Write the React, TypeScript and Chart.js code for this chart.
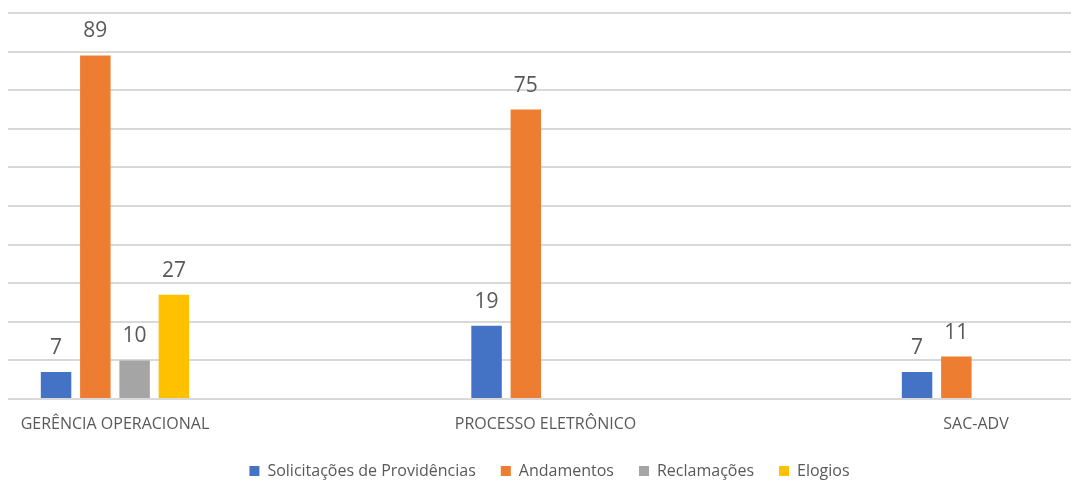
import React, { useEffect, useRef } from "react";
import { Chart, registerables } from "chart.js";

Chart.register(...registerables);

const categories = ["GERÊNCIA OPERACIONAL", "PROCESSO ELETRÔNICO", "SAC-ADV"];
const seriesNames = ["Solicitações de Providências", "Andamentos", "Reclamações", "Elogios"];
const solicitacoes = [7, 19, 7];
const andamentos = [89, 75, 11];
const reclamacoes = [10, null, null];
const elogios = [27, null, null];
const seriesColors = ["#4472C4", "#ED7D31", "#A5A5A5", "#FFC000"];
const yTicks = { min: 0, max: 100, step: 10 };

const TEXT_COLOR = "#595959";
const FONT = "'Open Sans', 'Noto Sans', sans-serif";

const toPoints = (vals: (number | null)[]) =>
  vals
    .map((v, i) => ({ x: i, y: v }))
    .filter((p) => p.y !== null);

const valueLabels = {
  id: "valueLabels",
  afterDatasetsDraw(chart: any) {
    const ctx = chart.ctx;
    ctx.save();
    ctx.font = `21px ${FONT}`;
    ctx.fillStyle = TEXT_COLOR;
    ctx.textAlign = "center";
    ctx.textBaseline = "alphabetic";
    chart.data.datasets.forEach((ds: any, di: number) => {
      const meta = chart.getDatasetMeta(di);
      if (meta.hidden) return;
      meta.data.forEach((el: any, i: number) => {
        const v = ds.data[i]?.y;
        if (v === null || v === undefined) return;
        ctx.fillText(String(v), el.x, el.y - 18);
      });
    });
    ctx.restore();
  },
};

export default function App() {
  const ref = useRef<HTMLCanvasElement>(null);

  useEffect(() => {
    document.body.style.margin = "0";
    const allSeries = [solicitacoes, andamentos, reclamacoes, elogios];
    const chart = new Chart(ref.current!, {
      type: "bar",
      data: {
        datasets: allSeries.map((vals, i) => ({
          label: seriesNames[i],
          data: toPoints(vals) as any,
          backgroundColor: seriesColors[i],
          borderWidth: 0,
          categoryPercentage: 0.365,
          barPercentage: 0.776,
        })),
      },
      options: {
        responsive: false,
        animation: false,
        layout: { padding: { top: 13, left: 8, right: -20, bottom: -9 } },
        plugins: {
          legend: {
            position: "bottom",
            labels: {
              boxWidth: 10,
              boxHeight: 10,
              padding: 25,
              color: TEXT_COLOR,
              font: { family: FONT, size: 16 },
            },
          },
          tooltip: { enabled: false },
        },
        scales: {
          x: {
            type: "linear",
            min: -0.2485,
            max: 2.2207,
            offset: false,
            grid: { display: false, offset: false },
            border: { display: false },
            afterBuildTicks: (scale: any) => {
              scale.ticks = categories.map((_, i) => ({ value: i }));
            },
            afterFit: (scale: any) => {
              scale.height = 39;
            },
            ticks: {
              autoSkip: false,
              maxRotation: 0,
              padding: 8,
              color: TEXT_COLOR,
              font: { family: FONT, size: 16 },
              callback: (value: any) => categories[value as number] ?? "",
            },
          },
          y: {
            min: yTicks.min,
            max: yTicks.max,
            ticks: { display: false, stepSize: yTicks.step },
            grid: { color: "#D9D9D9", lineWidth: 2, drawTicks: false },
            border: { display: false },
          },
        },
      },
      plugins: [valueLabels],
    });
    return () => chart.destroy();
  }, []);

  return (
    <div style={{ width: 1071, height: 480 }}>
      <canvas ref={ref} width={1071} height={480} style={{ display: "block" }} />
    </div>
  );
}
